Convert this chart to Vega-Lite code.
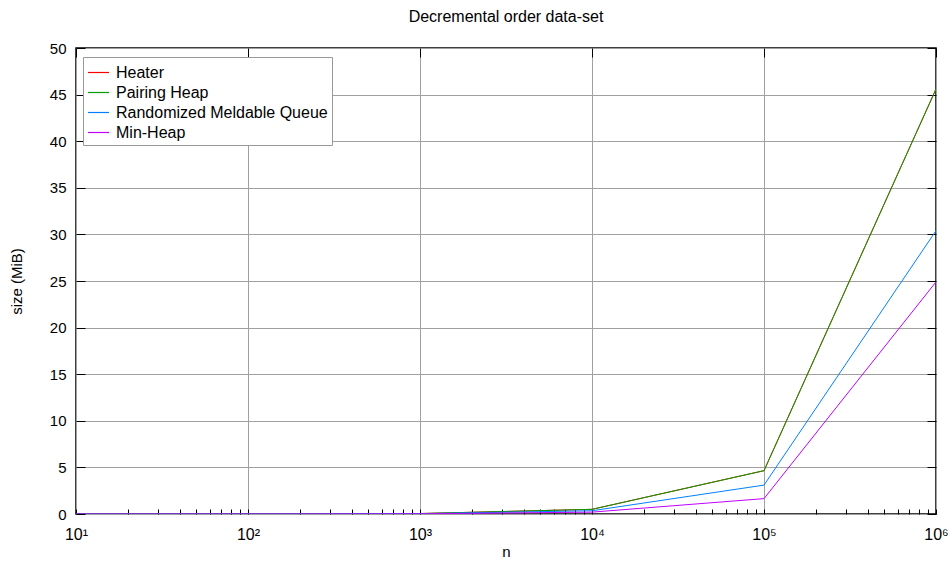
{
  "$schema": "https://vega.github.io/schema/vega-lite/v6.json",
  "width": 860,
  "height": 466,
  "autosize": {"type": "none"},
  "padding": {"left": 76, "top": 48, "right": 16, "bottom": 48},
  "background": "white",
  "config": {
    "font": "Liberation Sans",
    "view": {"stroke": "black", "strokeWidth": 1.5},
    "axis": {"domain": false, "labelColor": "black", "titleColor": "black", "tickColor": "black", "gridColor": "#a0a0a0", "gridOpacity": 1, "gridWidth": 1, "titleFontWeight": "normal", "titleFontSize": 15, "labelFontSize": 15}
  },
  "title": {"text": "Decremental order data-set", "fontSize": 16, "fontWeight": "normal", "anchor": "middle", "offset": 16, "color": "black"},
  "data": {"values": [
    {"n": 10, "size": 0.001, "series": "Heater"},
    {"n": 100, "size": 0.006, "series": "Heater"},
    {"n": 1000, "size": 0.05, "series": "Heater"},
    {"n": 10000, "size": 0.5, "series": "Heater"},
    {"n": 100000, "size": 4.65, "series": "Heater"},
    {"n": 1000000, "size": 45.6, "series": "Heater"},
    {"n": 10, "size": 0.001, "series": "Pairing Heap"},
    {"n": 100, "size": 0.006, "series": "Pairing Heap"},
    {"n": 1000, "size": 0.05, "series": "Pairing Heap"},
    {"n": 10000, "size": 0.5, "series": "Pairing Heap"},
    {"n": 100000, "size": 4.65, "series": "Pairing Heap"},
    {"n": 1000000, "size": 45.6, "series": "Pairing Heap"},
    {"n": 10, "size": 0.001, "series": "Randomized Meldable Queue"},
    {"n": 100, "size": 0.004, "series": "Randomized Meldable Queue"},
    {"n": 1000, "size": 0.035, "series": "Randomized Meldable Queue"},
    {"n": 10000, "size": 0.35, "series": "Randomized Meldable Queue"},
    {"n": 100000, "size": 3.1, "series": "Randomized Meldable Queue"},
    {"n": 1000000, "size": 30.4, "series": "Randomized Meldable Queue"},
    {"n": 10, "size": 0.0005, "series": "Min-Heap"},
    {"n": 100, "size": 0.002, "series": "Min-Heap"},
    {"n": 1000, "size": 0.02, "series": "Min-Heap"},
    {"n": 10000, "size": 0.2, "series": "Min-Heap"},
    {"n": 100000, "size": 1.65, "series": "Min-Heap"},
    {"n": 1000000, "size": 24.9, "series": "Min-Heap"}
  ]},
  "resolve": {"axis": {"x": "independent", "y": "independent"}},
  "layer": [
    {
      "mark": {"type": "line", "strokeWidth": 1, "clip": true},
      "encoding": {
        "x": {"field": "n", "type": "quantitative",
          "scale": {"type": "log", "domain": [10, 1000000], "nice": false},
          "axis": {"orient": "bottom", "title": "n", "titlePadding": 2, "grid": false, "tickSize": -5,
            "values": [10,20,30,40,50,60,70,80,90,100,200,300,400,500,600,700,800,900,1000,2000,3000,4000,5000,6000,7000,8000,9000,10000,20000,30000,40000,50000,60000,70000,80000,90000,100000,200000,300000,400000,500000,600000,700000,800000,900000,1000000],
            "labelExpr": "abs(log(datum.value)/LN10 - round(log(datum.value)/LN10)) < 0.001 ? '10' + ['⁰','¹','²','³','⁴','⁵','⁶'][round(log(datum.value)/LN10)] : ''",
            "labelFontSize": 16, "labelPadding": 17, "labelFlush": false}},
        "y": {"field": "size", "type": "quantitative",
          "scale": {"domain": [0, 50], "nice": false, "zero": true},
          "axis": {"orient": "left", "title": "size (MiB)", "titlePadding": 25, "grid": true, "tickSize": -9,
            "values": [0,5,10,15,20,25,30,35,40,45,50], "labelPadding": 19}},
        "color": {"field": "series", "type": "nominal",
          "sort": ["Heater", "Pairing Heap", "Randomized Meldable Queue", "Min-Heap"],
          "scale": {"domain": ["Heater", "Pairing Heap", "Randomized Meldable Queue", "Min-Heap"], "range": ["#ff0000", "#00a000", "#0080ff", "#c000ff"]},
          "legend": {"title": null, "orient": "none", "legendX": 7, "legendY": 9, "symbolType": "stroke", "symbolSize": 441, "symbolStrokeWidth": 1.2, "symbolOpacity": 1, "labelFontSize": 16, "labelLimit": 0, "labelOffset": 6, "labelColor": "black", "strokeColor": "#999999", "fillColor": "white", "padding": 4, "rowPadding": -4, "labelAlign": "left"}}
      }
    },
    {
      "mark": {"type": "line", "opacity": 0},
      "encoding": {
        "x": {"field": "n", "type": "quantitative",
          "scale": {"type": "log", "domain": [10, 1000000], "nice": false},
          "axis": {"orient": "top", "title": null, "labels": false, "grid": true, "tickSize": -9, "values": [10,100,1000,10000,100000,1000000]}},
        "y": {"field": "size", "type": "quantitative",
          "scale": {"domain": [0, 50], "nice": false},
          "axis": {"orient": "right", "title": null, "labels": false, "grid": false, "tickSize": -9, "values": [0,5,10,15,20,25,30,35,40,45,50]}},
        "detail": {"field": "series", "type": "nominal"}
      }
    }
  ]
}
